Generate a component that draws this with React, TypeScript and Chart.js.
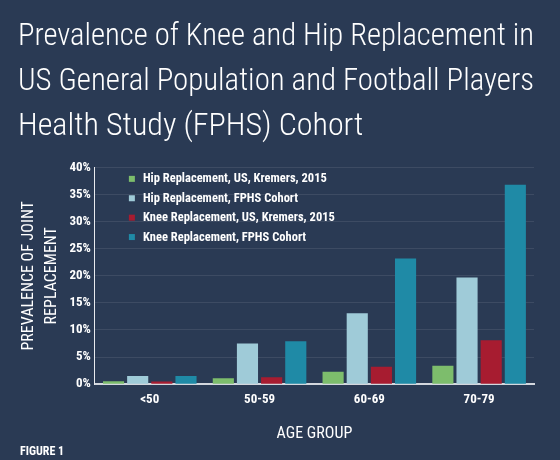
import React, { useEffect, useRef } from "react";
import { Chart, registerables } from "chart.js";

Chart.register(...registerables);

const categories = ["<50", "50-59", "60-69", "70-79"];
const hipUS = [0.55, 1.1, 2.3, 3.4];
const hipFPHS = [1.5, 7.5, 13.1, 19.7];
const kneeUS = [0.5, 1.3, 3.2, 8.1];
const kneeFPHS = [1.5, 7.9, 23.2, 36.8];
const seriesLabels = [
  "Hip Replacement, US, Kremers, 2015",
  "Hip Replacement, FPHS Cohort",
  "Knee Replacement, US, Kremers, 2015",
  "Knee Replacement, FPHS Cohort",
];
const seriesColors = ["#7dbd6c", "#9fcbd8", "#a71c30", "#1f8aa6"];
const titleLines = [
  "Prevalence of Knee and Hip Replacement in",
  "US General Population and Football Players",
  "Health Study (FPHS) Cohort",
];
const yTitle = ["PREVALENCE OF JOINT", "REPLACEMENT"];
const xTitle = "AGE GROUP";
const figureLabel = "FIGURE 1";

const BG = "#2a3a54";
const COND = "'Roboto Condensed', Roboto, sans-serif";

const legendPlugin = {
  id: "insideLegend",
  afterDraw(chart: any) {
    const { ctx, chartArea } = chart;
    ctx.save();
    ctx.font = `bold 12.5px ${COND}`;
    ctx.textBaseline = "middle";
    ctx.textAlign = "left";
    chart.data.datasets.forEach((ds: any, i: number) => {
      const y = chartArea.top + 11.5 + i * 19.4;
      const x = chartArea.left + 34;
      ctx.fillStyle = ds.backgroundColor;
      ctx.fillRect(x, y - 3, 6, 6);
      ctx.fillStyle = "#ffffff";
      ctx.fillText(ds.label, x + 14, y + 0.5);
    });
    // figure label, bottom-left
    ctx.font = `bold 12px ${COND}`;
    ctx.textBaseline = "alphabetic";
    ctx.fillStyle = "#ffffff";
    ctx.fillText(figureLabel, 20, chart.height - 4.7);
    ctx.restore();
  },
};

export default function App() {
  const ref = useRef<HTMLCanvasElement>(null);
  useEffect(() => {
    document.body.style.margin = "0";
    const chart = new Chart(ref.current!, {
      type: "bar",
      data: {
        labels: categories,
        datasets: [hipUS, hipFPHS, kneeUS, kneeFPHS].map((d, i) => ({
          label: seriesLabels[i],
          data: d,
          backgroundColor: seriesColors[i],
          borderWidth: 0,
          categoryPercentage: 0.88,
          barPercentage: 0.875,
        })),
      },
      options: {
        responsive: false,
        animation: false,
        layout: { padding: { left: 18, right: 26, top: 14, bottom: 16 } },
        plugins: {
          legend: { display: false },
          tooltip: { enabled: false },
          title: {
            display: true,
            text: titleLines,
            align: "start",
            color: "#ffffff",
            font: { family: COND, size: 32, weight: "300", lineHeight: 1.41 },
            padding: { top: 0, bottom: 18 },
          },
        },
        scales: {
          x: {
            grid: { display: false, drawTicks: false },
            border: { display: true, color: "#d3d7de", width: 2 },
            ticks: {
              color: "#ffffff",
              font: { family: COND, size: 13, weight: "bold" },
              padding: 8,
            },
            title: {
              display: true,
              text: xTitle,
              color: "#ffffff",
              font: { family: COND, size: 16, weight: "normal" },
              padding: { top: 9, bottom: 0 },
            },
          },
          y: {
            min: 0,
            max: 40,
            ticks: {
              stepSize: 5,
              color: "#ffffff",
              font: { family: COND, size: 13, weight: "bold" },
              padding: 4,
              callback: (v: any) => v + "%",
            },
            grid: { color: "rgba(255,255,255,0.09)", drawTicks: false, lineWidth: 1 },
            border: { display: true, color: "#e8eaee", width: 1 },
            title: {
              display: true,
              text: yTitle,
              color: "#ffffff",
              font: { family: COND, size: 16, weight: "normal", lineHeight: 1.42 },
              padding: { top: 0, bottom: 2 },
            },
          },
        },
      },
      plugins: [legendPlugin],
    });
    return () => chart.destroy();
  }, []);
  return (
    <div style={{ position: "absolute", left: 0, top: 0, width: 560, height: 460, background: BG }}>
      <canvas ref={ref} width={560} height={460} />
    </div>
  );
}
